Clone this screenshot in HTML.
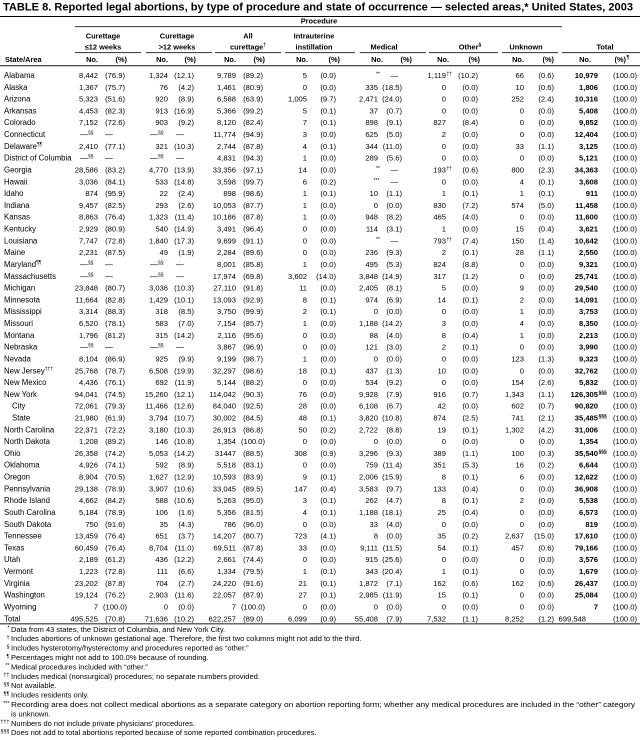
<!DOCTYPE html>
<html><head><meta charset="utf-8"><style>
html,body{margin:0;padding:0;background:#fff;}
svg{display:block;}
text{font-family:"Liberation Sans",Arial,sans-serif;fill:#000;}
.t{font-size:11px;font-weight:bold;}
.h{font-size:7.4px;font-weight:bold;}
.hc{font-size:7.4px;font-weight:bold;text-anchor:middle;}
.hr{font-size:7.4px;font-weight:bold;text-anchor:end;}
.l{font-size:7.8px;}
.d{font-size:7.6px;text-anchor:end;}
.b{font-weight:bold;}
.sp{font-size:5px;}
.fn{font-size:7.5px;}
.fm{font-size:5.5px;text-anchor:end;}
</style></head><body>
<svg width="640" height="740" viewBox="0 0 640 740" xmlns="http://www.w3.org/2000/svg">
<rect x="0" y="0" width="640" height="740" fill="#fff"/>
<text class="t" x="3" y="10.5" textLength="630" lengthAdjust="spacingAndGlyphs">TABLE 8. Reported legal abortions, by type of procedure and state of occurrence — selected areas,* United States, 2003</text>
<rect x="0" y="16" width="640" height="1" fill="#000"/>
<text class="hc" x="319" y="23.5">Procedure</text>
<rect x="75" y="26.3" width="487" height="0.8" fill="#000"/>
<text class="hc" x="103" y="38.5">Curettage</text>
<text class="hc" x="177" y="38.5">Curettage</text>
<text class="hc" x="248" y="38.5">All</text>
<text class="hc" x="314" y="38.5">Intrauterine</text>
<text class="hc" x="103" y="49.5">≤12 weeks</text>
<text class="hc" x="177" y="49.5">&gt;12 weeks</text>
<text class="hc" x="248" y="49.5">curettage<tspan class="sp" dy="-3">†</tspan></text>
<text class="hc" x="314" y="49.5">instillation</text>
<text class="hc" x="384" y="49.5">Medical</text>
<text class="hc" x="470" y="49.5">Other<tspan class="sp" dy="-3">§</tspan></text>
<text class="hc" x="526" y="49.5">Unknown</text>
<text class="hc" x="605" y="49.5">Total</text>
<g fill="#000">
<rect x="75" y="52.3" width="66" height="0.8"/>
<rect x="146" y="52.3" width="66" height="0.8"/>
<rect x="215" y="52.3" width="66" height="0.8"/>
<rect x="285" y="52.3" width="70" height="0.8"/>
<rect x="360" y="52.3" width="66" height="0.8"/>
<rect x="429" y="52.3" width="69" height="0.8"/>
<rect x="502" y="52.3" width="56" height="0.8"/>
<rect x="562" y="52.3" width="78" height="0.8"/>
</g>
<text class="h" x="5" y="62">State/Area</text>
<text class="hr" y="62"><tspan x="98">No.</tspan><tspan x="127">(%)</tspan><tspan x="168">No.</tspan><tspan x="196">(%)</tspan><tspan x="236">No.</tspan><tspan x="265">(%)</tspan><tspan x="308">No.</tspan><tspan x="340">(%)</tspan><tspan x="383">No.</tspan><tspan x="412">(%)</tspan><tspan x="449">No.</tspan><tspan x="480">(%)</tspan><tspan x="524">No.</tspan><tspan x="554">(%)</tspan><tspan x="591">No.</tspan><tspan x="626">(%)</tspan></text>
<text class="sp b" x="626.5" y="59">¶</text>
<rect x="0" y="65.3" width="640" height="0.9" fill="#000"/>

<!-- rows -->
<text class="l" x="4" y="78">Alabama</text>
<text class="d" y="78"><tspan x="98">8,442</tspan><tspan x="125">(76.9)</tspan><tspan x="168">1,324</tspan><tspan x="194">(12.1)</tspan><tspan x="236">9,789</tspan><tspan x="263">(89.2)</tspan><tspan x="307">5</tspan><tspan x="336">(0.0)</tspan><tspan x="446">1,119</tspan><tspan x="478">(10.2)</tspan><tspan x="524">66</tspan><tspan x="554">(0.6)</tspan><tspan x="598" class="b">10,979</tspan><tspan x="637">(100.0)</tspan></text>
<text class="sp" x="376" y="75.5">**</text><text class="d" x="398" y="78">—</text><text class="sp" x="446.5" y="75.5">††</text>

<text class="l" x="4" y="89.8">Alaska</text>
<text class="d" y="89.8"><tspan x="98">1,367</tspan><tspan x="125">(75.7)</tspan><tspan x="168">76</tspan><tspan x="194">(4.2)</tspan><tspan x="236">1,461</tspan><tspan x="263">(80.9)</tspan><tspan x="307">0</tspan><tspan x="336">(0.0)</tspan><tspan x="378">335</tspan><tspan x="402">(18.5)</tspan><tspan x="446">0</tspan><tspan x="478">(0.0)</tspan><tspan x="524">10</tspan><tspan x="554">(0.6)</tspan><tspan x="598" class="b">1,806</tspan><tspan x="637">(100.0)</tspan></text>

<text class="l" x="4" y="101.6">Arizona</text>
<text class="d" y="101.6"><tspan x="98">5,323</tspan><tspan x="125">(51.6)</tspan><tspan x="168">920</tspan><tspan x="194">(8.9)</tspan><tspan x="236">6,588</tspan><tspan x="263">(63.9)</tspan><tspan x="307">1,005</tspan><tspan x="336">(9.7)</tspan><tspan x="378">2,471</tspan><tspan x="402">(24.0)</tspan><tspan x="446">0</tspan><tspan x="478">(0.0)</tspan><tspan x="524">252</tspan><tspan x="554">(2.4)</tspan><tspan x="598" class="b">10,316</tspan><tspan x="637">(100.0)</tspan></text>

<text class="l" x="4" y="113.4">Arkansas</text>
<text class="d" y="113.4"><tspan x="98">4,453</tspan><tspan x="125">(82.3)</tspan><tspan x="168">913</tspan><tspan x="194">(16.9)</tspan><tspan x="236">5,366</tspan><tspan x="263">(99.2)</tspan><tspan x="307">5</tspan><tspan x="336">(0.1)</tspan><tspan x="378">37</tspan><tspan x="402">(0.7)</tspan><tspan x="446">0</tspan><tspan x="478">(0.0)</tspan><tspan x="524">0</tspan><tspan x="554">(0.0)</tspan><tspan x="598" class="b">5,408</tspan><tspan x="637">(100.0)</tspan></text>

<text class="l" x="4" y="125.2">Colorado</text>
<text class="d" y="125.2"><tspan x="98">7,152</tspan><tspan x="125">(72.6)</tspan><tspan x="168">903</tspan><tspan x="194">(9.2)</tspan><tspan x="236">8,120</tspan><tspan x="263">(82.4)</tspan><tspan x="307">7</tspan><tspan x="336">(0.1)</tspan><tspan x="378">898</tspan><tspan x="402">(9.1)</tspan><tspan x="446">827</tspan><tspan x="478">(8.4)</tspan><tspan x="524">0</tspan><tspan x="554">(0.0)</tspan><tspan x="598" class="b">9,852</tspan><tspan x="637">(100.0)</tspan></text>

<text class="l" x="4" y="137.1">Connecticut</text>
<text class="l" x="80" y="137.1">—</text><text class="sp" x="88" y="134.6">§§</text><text class="l" x="105" y="137.1">—</text><text class="l" x="150" y="137.1">—</text><text class="sp" x="158" y="134.6">§§</text><text class="l" x="176" y="137.1">—</text>
<text class="d" y="137.1"><tspan x="236">11,774</tspan><tspan x="263">(94.9)</tspan><tspan x="307">3</tspan><tspan x="336">(0.0)</tspan><tspan x="378">625</tspan><tspan x="402">(5.0)</tspan><tspan x="446">2</tspan><tspan x="478">(0.0)</tspan><tspan x="524">0</tspan><tspan x="554">(0.0)</tspan><tspan x="598" class="b">12,404</tspan><tspan x="637">(100.0)</tspan></text>

<text class="l" x="4" y="148.9">Delaware<tspan class="sp" dy="-3">¶¶</tspan></text>
<text class="d" y="148.9"><tspan x="98">2,410</tspan><tspan x="125">(77.1)</tspan><tspan x="168">321</tspan><tspan x="194">(10.3)</tspan><tspan x="236">2,744</tspan><tspan x="263">(87.8)</tspan><tspan x="307">4</tspan><tspan x="336">(0.1)</tspan><tspan x="378">344</tspan><tspan x="402">(11.0)</tspan><tspan x="446">0</tspan><tspan x="478">(0.0)</tspan><tspan x="524">33</tspan><tspan x="554">(1.1)</tspan><tspan x="598" class="b">3,125</tspan><tspan x="637">(100.0)</tspan></text>

<text class="l" x="4" y="160.7">District of Columbia</text>
<text class="l" x="80" y="160.7">—</text><text class="sp" x="88" y="158.2">§§</text><text class="l" x="105" y="160.7">—</text><text class="l" x="150" y="160.7">—</text><text class="sp" x="158" y="158.2">§§</text><text class="l" x="176" y="160.7">—</text>
<text class="d" y="160.7"><tspan x="236">4,831</tspan><tspan x="263">(94.3)</tspan><tspan x="307">1</tspan><tspan x="336">(0.0)</tspan><tspan x="378">289</tspan><tspan x="402">(5.6)</tspan><tspan x="446">0</tspan><tspan x="478">(0.0)</tspan><tspan x="524">0</tspan><tspan x="554">(0.0)</tspan><tspan x="598" class="b">5,121</tspan><tspan x="637">(100.0)</tspan></text>

<text class="l" x="4" y="172.5">Georgia</text>
<text class="d" y="172.5"><tspan x="98">28,586</tspan><tspan x="125">(83.2)</tspan><tspan x="168">4,770</tspan><tspan x="194">(13.9)</tspan><tspan x="236">33,356</tspan><tspan x="263">(97.1)</tspan><tspan x="307">14</tspan><tspan x="336">(0.0)</tspan><tspan x="446">193</tspan><tspan x="478">(0.6)</tspan><tspan x="524">800</tspan><tspan x="554">(2.3)</tspan><tspan x="598" class="b">34,363</tspan><tspan x="637">(100.0)</tspan></text>
<text class="sp" x="376" y="170">**</text><text class="d" x="398" y="172.5">—</text><text class="sp" x="446.5" y="170">††</text>

<text class="l" x="4" y="184.3">Hawaii</text>
<text class="d" y="184.3"><tspan x="98">3,036</tspan><tspan x="125">(84.1)</tspan><tspan x="168">533</tspan><tspan x="194">(14.8)</tspan><tspan x="236">3,598</tspan><tspan x="263">(99.7)</tspan><tspan x="307">6</tspan><tspan x="336">(0.2)</tspan><tspan x="446">0</tspan><tspan x="478">(0.0)</tspan><tspan x="524">4</tspan><tspan x="554">(0.1)</tspan><tspan x="598" class="b">3,608</tspan><tspan x="637">(100.0)</tspan></text>
<text class="sp" x="373.5" y="181.8">***</text><text class="d" x="398" y="184.3">—</text>

<text class="l" x="4" y="196.1">Idaho</text>
<text class="d" y="196.1"><tspan x="98">874</tspan><tspan x="125">(95.9)</tspan><tspan x="168">22</tspan><tspan x="194">(2.4)</tspan><tspan x="236">898</tspan><tspan x="263">(98.6)</tspan><tspan x="307">1</tspan><tspan x="336">(0.1)</tspan><tspan x="378">10</tspan><tspan x="402">(1.1)</tspan><tspan x="446">1</tspan><tspan x="478">(0.1)</tspan><tspan x="524">1</tspan><tspan x="554">(0.1)</tspan><tspan x="598" class="b">911</tspan><tspan x="637">(100.0)</tspan></text>

<text class="l" x="4" y="207.9">Indiana</text>
<text class="d" y="207.9"><tspan x="98">9,457</tspan><tspan x="125">(82.5)</tspan><tspan x="168">293</tspan><tspan x="194">(2.6)</tspan><tspan x="236">10,053</tspan><tspan x="263">(87.7)</tspan><tspan x="307">1</tspan><tspan x="336">(0.0)</tspan><tspan x="378">0</tspan><tspan x="402">(0.0)</tspan><tspan x="446">830</tspan><tspan x="478">(7.2)</tspan><tspan x="524">574</tspan><tspan x="554">(5.0)</tspan><tspan x="598" class="b">11,458</tspan><tspan x="637">(100.0)</tspan></text>

<text class="l" x="4" y="219.7">Kansas</text>
<text class="d" y="219.7"><tspan x="98">8,863</tspan><tspan x="125">(76.4)</tspan><tspan x="168">1,323</tspan><tspan x="194">(11.4)</tspan><tspan x="236">10,186</tspan><tspan x="263">(87.8)</tspan><tspan x="307">1</tspan><tspan x="336">(0.0)</tspan><tspan x="378">948</tspan><tspan x="402">(8.2)</tspan><tspan x="446">465</tspan><tspan x="478">(4.0)</tspan><tspan x="524">0</tspan><tspan x="554">(0.0)</tspan><tspan x="598" class="b">11,600</tspan><tspan x="637">(100.0)</tspan></text>

<text class="l" x="4" y="231.5">Kentucky</text>
<text class="d" y="231.5"><tspan x="98">2,929</tspan><tspan x="125">(80.9)</tspan><tspan x="168">540</tspan><tspan x="194">(14.9)</tspan><tspan x="236">3,491</tspan><tspan x="263">(96.4)</tspan><tspan x="307">0</tspan><tspan x="336">(0.0)</tspan><tspan x="378">114</tspan><tspan x="402">(3.1)</tspan><tspan x="446">1</tspan><tspan x="478">(0.0)</tspan><tspan x="524">15</tspan><tspan x="554">(0.4)</tspan><tspan x="598" class="b">3,621</tspan><tspan x="637">(100.0)</tspan></text>

<text class="l" x="4" y="243.3">Louisiana</text>
<text class="d" y="243.3"><tspan x="98">7,747</tspan><tspan x="125">(72.8)</tspan><tspan x="168">1,840</tspan><tspan x="194">(17.3)</tspan><tspan x="236">9,699</tspan><tspan x="263">(91.1)</tspan><tspan x="307">0</tspan><tspan x="336">(0.0)</tspan><tspan x="446">793</tspan><tspan x="478">(7.4)</tspan><tspan x="524">150</tspan><tspan x="554">(1.4)</tspan><tspan x="598" class="b">10,642</tspan><tspan x="637">(100.0)</tspan></text>
<text class="sp" x="376" y="240.8">**</text><text class="d" x="398" y="243.3">—</text><text class="sp" x="446.5" y="240.8">††</text>

<text class="l" x="4" y="255.2">Maine</text>
<text class="d" y="255.2"><tspan x="98">2,231</tspan><tspan x="125">(87.5)</tspan><tspan x="168">49</tspan><tspan x="194">(1.9)</tspan><tspan x="236">2,284</tspan><tspan x="263">(89.6)</tspan><tspan x="307">0</tspan><tspan x="336">(0.0)</tspan><tspan x="378">236</tspan><tspan x="402">(9.3)</tspan><tspan x="446">2</tspan><tspan x="478">(0.1)</tspan><tspan x="524">28</tspan><tspan x="554">(1.1)</tspan><tspan x="598" class="b">2,550</tspan><tspan x="637">(100.0)</tspan></text>

<text class="l" x="4" y="267">Maryland<tspan class="sp" dy="-3">¶¶</tspan></text>
<text class="l" x="80" y="267">—</text><text class="sp" x="88" y="264.5">§§</text><text class="l" x="105" y="267">—</text><text class="l" x="150" y="267">—</text><text class="sp" x="158" y="264.5">§§</text><text class="l" x="176" y="267">—</text>
<text class="d" y="267"><tspan x="236">8,001</tspan><tspan x="263">(85.8)</tspan><tspan x="307">1</tspan><tspan x="336">(0.0)</tspan><tspan x="378">495</tspan><tspan x="402">(5.3)</tspan><tspan x="446">824</tspan><tspan x="478">(8.8)</tspan><tspan x="524">0</tspan><tspan x="554">(0.0)</tspan><tspan x="598" class="b">9,321</tspan><tspan x="637">(100.0)</tspan></text>

<text class="l" x="4" y="278.8">Massachusetts</text>
<text class="l" x="80" y="278.8">—</text><text class="sp" x="88" y="276.3">§§</text><text class="l" x="105" y="278.8">—</text><text class="l" x="150" y="278.8">—</text><text class="sp" x="158" y="276.3">§§</text><text class="l" x="176" y="278.8">—</text>
<text class="d" y="278.8"><tspan x="236">17,974</tspan><tspan x="263">(69.8)</tspan><tspan x="307">3,602</tspan><tspan x="336">(14.0)</tspan><tspan x="378">3,848</tspan><tspan x="402">(14.9)</tspan><tspan x="446">317</tspan><tspan x="478">(1.2)</tspan><tspan x="524">0</tspan><tspan x="554">(0.0)</tspan><tspan x="598" class="b">25,741</tspan><tspan x="637">(100.0)</tspan></text>

<text class="l" x="4" y="290.6">Michigan</text>
<text class="d" y="290.6"><tspan x="98">23,848</tspan><tspan x="125">(80.7)</tspan><tspan x="168">3,036</tspan><tspan x="194">(10.3)</tspan><tspan x="236">27,110</tspan><tspan x="263">(91.8)</tspan><tspan x="307">11</tspan><tspan x="336">(0.0)</tspan><tspan x="378">2,405</tspan><tspan x="402">(8.1)</tspan><tspan x="446">5</tspan><tspan x="478">(0.0)</tspan><tspan x="524">9</tspan><tspan x="554">(0.0)</tspan><tspan x="598" class="b">29,540</tspan><tspan x="637">(100.0)</tspan></text>

<text class="l" x="4" y="302.4">Minnesota</text>
<text class="d" y="302.4"><tspan x="98">11,664</tspan><tspan x="125">(82.8)</tspan><tspan x="168">1,429</tspan><tspan x="194">(10.1)</tspan><tspan x="236">13,093</tspan><tspan x="263">(92.9)</tspan><tspan x="307">8</tspan><tspan x="336">(0.1)</tspan><tspan x="378">974</tspan><tspan x="402">(6.9)</tspan><tspan x="446">14</tspan><tspan x="478">(0.1)</tspan><tspan x="524">2</tspan><tspan x="554">(0.0)</tspan><tspan x="598" class="b">14,091</tspan><tspan x="637">(100.0)</tspan></text>

<text class="l" x="4" y="314.2">Mississippi</text>
<text class="d" y="314.2"><tspan x="98">3,314</tspan><tspan x="125">(88.3)</tspan><tspan x="168">318</tspan><tspan x="194">(8.5)</tspan><tspan x="236">3,750</tspan><tspan x="263">(99.9)</tspan><tspan x="307">2</tspan><tspan x="336">(0.1)</tspan><tspan x="378">0</tspan><tspan x="402">(0.0)</tspan><tspan x="446">0</tspan><tspan x="478">(0.0)</tspan><tspan x="524">1</tspan><tspan x="554">(0.0)</tspan><tspan x="598" class="b">3,753</tspan><tspan x="637">(100.0)</tspan></text>

<text class="l" x="4" y="326">Missouri</text>
<text class="d" y="326"><tspan x="98">6,520</tspan><tspan x="125">(78.1)</tspan><tspan x="168">583</tspan><tspan x="194">(7.0)</tspan><tspan x="236">7,154</tspan><tspan x="263">(85.7)</tspan><tspan x="307">1</tspan><tspan x="336">(0.0)</tspan><tspan x="378">1,188</tspan><tspan x="402">(14.2)</tspan><tspan x="446">3</tspan><tspan x="478">(0.0)</tspan><tspan x="524">4</tspan><tspan x="554">(0.0)</tspan><tspan x="598" class="b">8,350</tspan><tspan x="637">(100.0)</tspan></text>

<text class="l" x="4" y="337.8">Montana</text>
<text class="d" y="337.8"><tspan x="98">1,796</tspan><tspan x="125">(81.2)</tspan><tspan x="168">315</tspan><tspan x="194">(14.2)</tspan><tspan x="236">2,116</tspan><tspan x="263">(95.6)</tspan><tspan x="307">0</tspan><tspan x="336">(0.0)</tspan><tspan x="378">88</tspan><tspan x="402">(4.0)</tspan><tspan x="446">8</tspan><tspan x="478">(0.4)</tspan><tspan x="524">1</tspan><tspan x="554">(0.0)</tspan><tspan x="598" class="b">2,213</tspan><tspan x="637">(100.0)</tspan></text>

<text class="l" x="4" y="349.6">Nebraska</text>
<text class="l" x="80" y="349.6">—</text><text class="sp" x="88" y="347.1">§§</text><text class="l" x="105" y="349.6">—</text><text class="l" x="150" y="349.6">—</text><text class="sp" x="158" y="347.1">§§</text><text class="l" x="176" y="349.6">—</text>
<text class="d" y="349.6"><tspan x="236">3,867</tspan><tspan x="263">(96.9)</tspan><tspan x="307">0</tspan><tspan x="336">(0.0)</tspan><tspan x="378">121</tspan><tspan x="402">(3.0)</tspan><tspan x="446">2</tspan><tspan x="478">(0.1)</tspan><tspan x="524">0</tspan><tspan x="554">(0.0)</tspan><tspan x="598" class="b">3,990</tspan><tspan x="637">(100.0)</tspan></text>

<text class="l" x="4" y="361.4">Nevada</text>
<text class="d" y="361.4"><tspan x="98">8,104</tspan><tspan x="125">(86.9)</tspan><tspan x="168">925</tspan><tspan x="194">(9.9)</tspan><tspan x="236">9,199</tspan><tspan x="263">(98.7)</tspan><tspan x="307">1</tspan><tspan x="336">(0.0)</tspan><tspan x="378">0</tspan><tspan x="402">(0.0)</tspan><tspan x="446">0</tspan><tspan x="478">(0.0)</tspan><tspan x="524">123</tspan><tspan x="554">(1.3)</tspan><tspan x="598" class="b">9,323</tspan><tspan x="637">(100.0)</tspan></text>

<text class="l" x="4" y="373.3">New Jersey<tspan class="sp" dy="-3">†††</tspan></text>
<text class="d" y="373.3"><tspan x="98">25,768</tspan><tspan x="125">(78.7)</tspan><tspan x="168">6,508</tspan><tspan x="194">(19.9)</tspan><tspan x="236">32,297</tspan><tspan x="263">(98.6)</tspan><tspan x="307">18</tspan><tspan x="336">(0.1)</tspan><tspan x="378">437</tspan><tspan x="402">(1.3)</tspan><tspan x="446">10</tspan><tspan x="478">(0.0)</tspan><tspan x="524">0</tspan><tspan x="554">(0.0)</tspan><tspan x="598" class="b">32,762</tspan><tspan x="637">(100.0)</tspan></text>

<text class="l" x="4" y="385.1">New Mexico</text>
<text class="d" y="385.1"><tspan x="98">4,436</tspan><tspan x="125">(76.1)</tspan><tspan x="168">692</tspan><tspan x="194">(11.9)</tspan><tspan x="236">5,144</tspan><tspan x="263">(88.2)</tspan><tspan x="307">0</tspan><tspan x="336">(0.0)</tspan><tspan x="378">534</tspan><tspan x="402">(9.2)</tspan><tspan x="446">0</tspan><tspan x="478">(0.0)</tspan><tspan x="524">154</tspan><tspan x="554">(2.6)</tspan><tspan x="598" class="b">5,832</tspan><tspan x="637">(100.0)</tspan></text>

<text class="l" x="4" y="396.9">New York</text>
<text class="d" y="396.9"><tspan x="98">94,041</tspan><tspan x="125">(74.5)</tspan><tspan x="168">15,260</tspan><tspan x="194">(12.1)</tspan><tspan x="236">114,042</tspan><tspan x="263">(90.3)</tspan><tspan x="307">76</tspan><tspan x="336">(0.0)</tspan><tspan x="378">9,928</tspan><tspan x="402">(7.9)</tspan><tspan x="446">916</tspan><tspan x="478">(0.7)</tspan><tspan x="524">1,343</tspan><tspan x="554">(1.1)</tspan><tspan x="598" class="b">126,305</tspan><tspan x="637">(100.0)</tspan></text>
<text class="sp b" x="598.5" y="394.4">§§§</text>

<text class="l" x="12" y="408.7">City</text>
<text class="d" y="408.7"><tspan x="98">72,061</tspan><tspan x="125">(79.3)</tspan><tspan x="168">11,466</tspan><tspan x="194">(12.6)</tspan><tspan x="236">84,040</tspan><tspan x="263">(92.5)</tspan><tspan x="307">28</tspan><tspan x="336">(0.0)</tspan><tspan x="378">6,108</tspan><tspan x="402">(6.7)</tspan><tspan x="446">42</tspan><tspan x="478">(0.0)</tspan><tspan x="524">602</tspan><tspan x="554">(0.7)</tspan><tspan x="598" class="b">90,820</tspan><tspan x="637">(100.0)</tspan></text>

<text class="l" x="12" y="420.5">State</text>
<text class="d" y="420.5"><tspan x="98">21,980</tspan><tspan x="125">(61.9)</tspan><tspan x="168">3,794</tspan><tspan x="194">(10.7)</tspan><tspan x="236">30,002</tspan><tspan x="263">(84.5)</tspan><tspan x="307">48</tspan><tspan x="336">(0.1)</tspan><tspan x="378">3,820</tspan><tspan x="402">(10.8)</tspan><tspan x="446">874</tspan><tspan x="478">(2.5)</tspan><tspan x="524">741</tspan><tspan x="554">(2.1)</tspan><tspan x="598" class="b">35,485</tspan><tspan x="637">(100.0)</tspan></text>
<text class="sp b" x="598.5" y="418">§§§</text>

<text class="l" x="4" y="432.3">North Carolina</text>
<text class="d" y="432.3"><tspan x="98">22,371</tspan><tspan x="125">(72.2)</tspan><tspan x="168">3,180</tspan><tspan x="194">(10.3)</tspan><tspan x="236">26,913</tspan><tspan x="263">(86.8)</tspan><tspan x="307">50</tspan><tspan x="336">(0.2)</tspan><tspan x="378">2,722</tspan><tspan x="402">(8.8)</tspan><tspan x="446">19</tspan><tspan x="478">(0.1)</tspan><tspan x="524">1,302</tspan><tspan x="554">(4.2)</tspan><tspan x="598" class="b">31,006</tspan><tspan x="637">(100.0)</tspan></text>

<text class="l" x="4" y="444.1">North Dakota</text>
<text class="d" y="444.1"><tspan x="98">1,208</tspan><tspan x="125">(89.2)</tspan><tspan x="168">146</tspan><tspan x="194">(10.8)</tspan><tspan x="236">1,354</tspan><tspan x="265">(100.0)</tspan><tspan x="307">0</tspan><tspan x="336">(0.0)</tspan><tspan x="378">0</tspan><tspan x="402">(0.0)</tspan><tspan x="446">0</tspan><tspan x="478">(0.0)</tspan><tspan x="524">0</tspan><tspan x="554">(0.0)</tspan><tspan x="598" class="b">1,354</tspan><tspan x="637">(100.0)</tspan></text>

<text class="l" x="4" y="455.9">Ohio</text>
<text class="d" y="455.9"><tspan x="98">26,358</tspan><tspan x="125">(74.2)</tspan><tspan x="168">5,053</tspan><tspan x="194">(14.2)</tspan><tspan x="236">31447</tspan><tspan x="263">(88.5)</tspan><tspan x="307">308</tspan><tspan x="336">(0.9)</tspan><tspan x="378">3,296</tspan><tspan x="402">(9.3)</tspan><tspan x="446">389</tspan><tspan x="478">(1.1)</tspan><tspan x="524">100</tspan><tspan x="554">(0.3)</tspan><tspan x="598" class="b">35,540</tspan><tspan x="637">(100.0)</tspan></text>
<text class="sp b" x="598.5" y="453.4">§§§</text>

<text class="l" x="4" y="467.7">Oklahoma</text>
<text class="d" y="467.7"><tspan x="98">4,926</tspan><tspan x="125">(74.1)</tspan><tspan x="168">592</tspan><tspan x="194">(8.9)</tspan><tspan x="236">5,518</tspan><tspan x="263">(83.1)</tspan><tspan x="307">0</tspan><tspan x="336">(0.0)</tspan><tspan x="378">759</tspan><tspan x="402">(11.4)</tspan><tspan x="446">351</tspan><tspan x="478">(5.3)</tspan><tspan x="524">16</tspan><tspan x="554">(0.2)</tspan><tspan x="598" class="b">6,644</tspan><tspan x="637">(100.0)</tspan></text>

<text class="l" x="4" y="479.5">Oregon</text>
<text class="d" y="479.5"><tspan x="98">8,904</tspan><tspan x="125">(70.5)</tspan><tspan x="168">1,627</tspan><tspan x="194">(12.9)</tspan><tspan x="236">10,593</tspan><tspan x="263">(83.9)</tspan><tspan x="307">9</tspan><tspan x="336">(0.1)</tspan><tspan x="378">2,006</tspan><tspan x="402">(15.9)</tspan><tspan x="446">8</tspan><tspan x="478">(0.1)</tspan><tspan x="524">6</tspan><tspan x="554">(0.0)</tspan><tspan x="598" class="b">12,622</tspan><tspan x="637">(100.0)</tspan></text>

<text class="l" x="4" y="491.4">Pennsylvania</text>
<text class="d" y="491.4"><tspan x="98">29,138</tspan><tspan x="125">(78.9)</tspan><tspan x="168">3,907</tspan><tspan x="194">(10.6)</tspan><tspan x="236">33,045</tspan><tspan x="263">(89.5)</tspan><tspan x="307">147</tspan><tspan x="336">(0.4)</tspan><tspan x="378">3,583</tspan><tspan x="402">(9.7)</tspan><tspan x="446">133</tspan><tspan x="478">(0.4)</tspan><tspan x="524">0</tspan><tspan x="554">(0.0)</tspan><tspan x="598" class="b">36,908</tspan><tspan x="637">(100.0)</tspan></text>

<text class="l" x="4" y="503.2">Rhode Island</text>
<text class="d" y="503.2"><tspan x="98">4,662</tspan><tspan x="125">(84.2)</tspan><tspan x="168">588</tspan><tspan x="194">(10.6)</tspan><tspan x="236">5,263</tspan><tspan x="263">(95.0)</tspan><tspan x="307">3</tspan><tspan x="336">(0.1)</tspan><tspan x="378">262</tspan><tspan x="402">(4.7)</tspan><tspan x="446">8</tspan><tspan x="478">(0.1)</tspan><tspan x="524">2</tspan><tspan x="554">(0.0)</tspan><tspan x="598" class="b">5,538</tspan><tspan x="637">(100.0)</tspan></text>

<text class="l" x="4" y="515">South Carolina</text>
<text class="d" y="515"><tspan x="98">5,184</tspan><tspan x="125">(78.9)</tspan><tspan x="168">106</tspan><tspan x="194">(1.6)</tspan><tspan x="236">5,356</tspan><tspan x="263">(81.5)</tspan><tspan x="307">4</tspan><tspan x="336">(0.1)</tspan><tspan x="378">1,188</tspan><tspan x="402">(18.1)</tspan><tspan x="446">25</tspan><tspan x="478">(0.4)</tspan><tspan x="524">0</tspan><tspan x="554">(0.0)</tspan><tspan x="598" class="b">6,573</tspan><tspan x="637">(100.0)</tspan></text>

<text class="l" x="4" y="526.8">South Dakota</text>
<text class="d" y="526.8"><tspan x="98">750</tspan><tspan x="125">(91.6)</tspan><tspan x="168">35</tspan><tspan x="194">(4.3)</tspan><tspan x="236">786</tspan><tspan x="263">(96.0)</tspan><tspan x="307">0</tspan><tspan x="336">(0.0)</tspan><tspan x="378">33</tspan><tspan x="402">(4.0)</tspan><tspan x="446">0</tspan><tspan x="478">(0.0)</tspan><tspan x="524">0</tspan><tspan x="554">(0.0)</tspan><tspan x="598" class="b">819</tspan><tspan x="637">(100.0)</tspan></text>

<text class="l" x="4" y="538.6">Tennessee</text>
<text class="d" y="538.6"><tspan x="98">13,459</tspan><tspan x="125">(76.4)</tspan><tspan x="168">651</tspan><tspan x="194">(3.7)</tspan><tspan x="236">14,207</tspan><tspan x="263">(80.7)</tspan><tspan x="307">723</tspan><tspan x="336">(4.1)</tspan><tspan x="378">8</tspan><tspan x="402">(0.0)</tspan><tspan x="446">35</tspan><tspan x="478">(0.2)</tspan><tspan x="524">2,637</tspan><tspan x="554">(15.0)</tspan><tspan x="598" class="b">17,610</tspan><tspan x="637">(100.0)</tspan></text>

<text class="l" x="4" y="550.4">Texas</text>
<text class="d" y="550.4"><tspan x="98">60,459</tspan><tspan x="125">(76.4)</tspan><tspan x="168">8,704</tspan><tspan x="194">(11.0)</tspan><tspan x="236">69,511</tspan><tspan x="263">(87.8)</tspan><tspan x="307">33</tspan><tspan x="336">(0.0)</tspan><tspan x="378">9,111</tspan><tspan x="402">(11.5)</tspan><tspan x="446">54</tspan><tspan x="478">(0.1)</tspan><tspan x="524">457</tspan><tspan x="554">(0.6)</tspan><tspan x="598" class="b">79,166</tspan><tspan x="637">(100.0)</tspan></text>

<text class="l" x="4" y="562.2">Utah</text>
<text class="d" y="562.2"><tspan x="98">2,189</tspan><tspan x="125">(61.2)</tspan><tspan x="168">436</tspan><tspan x="194">(12.2)</tspan><tspan x="236">2,661</tspan><tspan x="263">(74.4)</tspan><tspan x="307">0</tspan><tspan x="336">(0.0)</tspan><tspan x="378">915</tspan><tspan x="402">(25.6)</tspan><tspan x="446">0</tspan><tspan x="478">(0.0)</tspan><tspan x="524">0</tspan><tspan x="554">(0.0)</tspan><tspan x="598" class="b">3,576</tspan><tspan x="637">(100.0)</tspan></text>

<text class="l" x="4" y="574">Vermont</text>
<text class="d" y="574"><tspan x="98">1,223</tspan><tspan x="125">(72.8)</tspan><tspan x="168">111</tspan><tspan x="194">(6.6)</tspan><tspan x="236">1,334</tspan><tspan x="263">(79.5)</tspan><tspan x="307">1</tspan><tspan x="336">(0.1)</tspan><tspan x="378">343</tspan><tspan x="402">(20.4)</tspan><tspan x="446">1</tspan><tspan x="478">(0.1)</tspan><tspan x="524">0</tspan><tspan x="554">(0.0)</tspan><tspan x="598" class="b">1,679</tspan><tspan x="637">(100.0)</tspan></text>

<text class="l" x="4" y="585.8">Virginia</text>
<text class="d" y="585.8"><tspan x="98">23,202</tspan><tspan x="125">(87.8)</tspan><tspan x="168">704</tspan><tspan x="194">(2.7)</tspan><tspan x="236">24,220</tspan><tspan x="263">(91.6)</tspan><tspan x="307">21</tspan><tspan x="336">(0.1)</tspan><tspan x="378">1,872</tspan><tspan x="402">(7.1)</tspan><tspan x="446">162</tspan><tspan x="478">(0.6)</tspan><tspan x="524">162</tspan><tspan x="554">(0.6)</tspan><tspan x="598" class="b">26,437</tspan><tspan x="637">(100.0)</tspan></text>

<text class="l" x="4" y="597.6">Washington</text>
<text class="d" y="597.6"><tspan x="98">19,124</tspan><tspan x="125">(76.2)</tspan><tspan x="168">2,903</tspan><tspan x="194">(11.6)</tspan><tspan x="236">22,057</tspan><tspan x="263">(87.9)</tspan><tspan x="307">27</tspan><tspan x="336">(0.1)</tspan><tspan x="378">2,985</tspan><tspan x="402">(11.9)</tspan><tspan x="446">15</tspan><tspan x="478">(0.1)</tspan><tspan x="524">0</tspan><tspan x="554">(0.0)</tspan><tspan x="598" class="b">25,084</tspan><tspan x="637">(100.0)</tspan></text>

<text class="l" x="4" y="609.5">Wyoming</text>
<text class="d" y="609.5"><tspan x="98">7</tspan><tspan x="127">(100.0)</tspan><tspan x="168">0</tspan><tspan x="194">(0.0)</tspan><tspan x="236">7</tspan><tspan x="265">(100.0)</tspan><tspan x="307">0</tspan><tspan x="336">(0.0)</tspan><tspan x="378">0</tspan><tspan x="402">(0.0)</tspan><tspan x="446">0</tspan><tspan x="478">(0.0)</tspan><tspan x="524">0</tspan><tspan x="554">(0.0)</tspan><tspan x="598" class="b">7</tspan><tspan x="637">(100.0)</tspan></text>

<text class="l" x="4" y="621.3">Total</text>
<text class="d" y="621.3"><tspan x="98">495,525</tspan><tspan x="125">(70.8)</tspan><tspan x="168">71,636</tspan><tspan x="194">(10.2)</tspan><tspan x="236">622,257</tspan><tspan x="263">(89.0)</tspan><tspan x="307">6,099</tspan><tspan x="336">(0.9)</tspan><tspan x="378">55,408</tspan><tspan x="402">(7.9)</tspan><tspan x="446">7,532</tspan><tspan x="478">(1.1)</tspan><tspan x="524">8,252</tspan><tspan x="554">(1.2)</tspan><tspan x="586">699,548</tspan><tspan x="637">(100.0)</tspan></text>
<rect x="0" y="623.4" width="640" height="0.9" fill="#000"/>

<!-- footnotes -->
<text class="fm" x="9.5" y="629.6">*</text><text class="fn" x="11" y="631.8">Data from 43 states, the District of Columbia, and New York City.</text>
<text class="fm" x="9.5" y="639">†</text><text class="fn" x="11" y="641.2">Includes abortions of unknown gestational age. Therefore, the first two columns might not add to the third.</text>
<text class="fm" x="9.5" y="648.4">§</text><text class="fn" x="11" y="650.6">Includes hysterotomy/hysterectomy and procedures reported as “other.”</text>
<text class="fm" x="9.5" y="657.8">¶</text><text class="fn" x="11" y="660">Percentages might not add to 100.0% because of rounding.</text>
<text class="fm" x="9.5" y="667.2">**</text><text class="fn" x="11" y="669.4">Medical procedures included with “other.”</text>
<text class="fm" x="9.5" y="676.6">††</text><text class="fn" x="11" y="678.8">Includes medical (nonsurgical) procedures; no separate numbers provided.</text>
<text class="fm" x="9.5" y="686">§§</text><text class="fn" x="11" y="688.2">Not available.</text>
<text class="fm" x="9.5" y="695.4">¶¶</text><text class="fn" x="11" y="697.6">Includes residents only.</text>
<text class="fm" x="9.5" y="704.8">***</text><text class="fn" x="11" y="707" textLength="624" lengthAdjust="spacingAndGlyphs">Recording area does not collect medical abortions as a separate category on abortion reporting form; whether any medical procedures are included in the “other” category</text>
<text class="fn" x="11" y="716.4">is unknown.</text>
<text class="fm" x="9.5" y="723.6">†††</text><text class="fn" x="11" y="725.8">Numbers do not include private physicians’ procedures.</text>
<text class="fm" x="9.5" y="733">§§§</text><text class="fn" x="11" y="735.2">Does not add to total abortions reported because of some reported combination procedures.</text>
</svg>
</body></html>
